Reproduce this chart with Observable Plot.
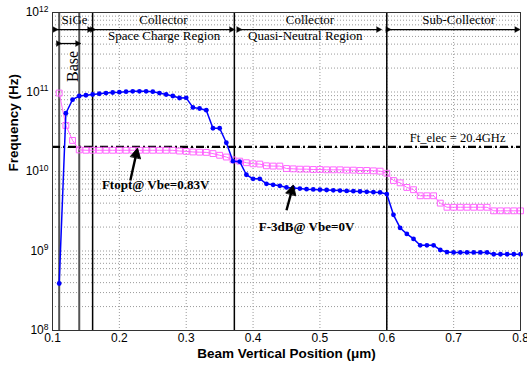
<!DOCTYPE html>
<html>
<head>
<meta charset="utf-8">
<script src="https://cdn.jsdelivr.net/npm/d3@7"></script>
<script src="https://cdn.jsdelivr.net/npm/@observablehq/plot@0.6"></script>
<style>
  html, body { margin: 0; padding: 0; background: #fff; }
  #chart { width: 527px; height: 367px; }
</style>
</head>
<body>
<div id="chart"></div>
<script>
// ---- data ----
const positions = [0.11, 0.12, 0.13, 0.14, 0.15, 0.16, 0.17, 0.18, 0.19, 0.20,
  0.21, 0.22, 0.23, 0.24, 0.25, 0.26, 0.27, 0.28, 0.29, 0.30,
  0.31, 0.32, 0.33, 0.34, 0.35, 0.36, 0.37, 0.38, 0.39, 0.40,
  0.41, 0.42, 0.43, 0.44, 0.45, 0.46, 0.47, 0.48, 0.49, 0.50,
  0.51, 0.52, 0.53, 0.54, 0.55, 0.56, 0.57, 0.58, 0.59, 0.60,
  0.61, 0.62, 0.63, 0.64, 0.65, 0.66, 0.67, 0.68, 0.69, 0.70,
  0.71, 0.72, 0.73, 0.74, 0.75, 0.76, 0.77, 0.78, 0.79, 0.80];

// F-3dB @ Vbe=0V (blue)
const f3dB = [3.9e8, 5.4e10, 8.0e10, 8.9e10, 9.1e10, 9.3e10, 9.5e10, 9.7e10, 9.85e10, 9.95e10,
  1.01e11, 1.02e11, 1.02e11, 1.02e11, 1.01e11, 9.7e10, 9.3e10, 8.9e10, 8.4e10, 8.45e10,
  6.4e10, 6.2e10, 5.9e10, 3.5e10, 3.5e10, 2.3e10, 1.35e10, 1.33e10, 9.1e9, 8.1e9,
  8.1e9, 7.0e9, 6.8e9, 6.6e9, 6.3e9, 6.2e9, 6.1e9, 6.0e9, 5.95e9, 5.9e9,
  5.85e9, 5.8e9, 5.75e9, 5.7e9, 5.65e9, 5.6e9, 5.55e9, 5.5e9, 5.45e9, 5.2e9,
  2.85e9, 1.95e9, 1.64e9, 1.42e9, 1.18e9, 1.18e9, 1.18e9, 1.03e9, 9.7e8, 9.6e8,
  9.6e8, 9.6e8, 9.6e8, 9.6e8, 9.6e8, 9.1e8, 9.1e8, 9.1e8, 9.1e8, 9.1e8];

// Ftopt @ Vbe=0.83V (pink)
const ftopt = [9.7e10, 3.8e10, 2.46e10, 1.87e10, 1.85e10, 1.85e10, 1.85e10, 1.85e10, 1.85e10, 1.85e10,
  1.85e10, 1.85e10, 1.85e10, 1.85e10, 1.85e10, 1.85e10, 1.85e10, 1.85e10, 1.81e10, 1.79e10,
  1.76e10, 1.75e10, 1.74e10, 1.68e10, 1.6e10, 1.52e10, 1.4e10, 1.35e10, 1.29e10, 1.25e10,
  1.24e10, 1.18e10, 1.17e10, 1.17e10, 1.09e10, 1.08e10, 1.07e10, 1.07e10, 1.06e10, 1.06e10,
  1.05e10, 1.05e10, 1.05e10, 1.04e10, 1.04e10, 1.03e10, 1.03e10, 1.02e10, 1.01e10, 9.5e9,
  7.7e9, 7.2e9, 6.3e9, 5.9e9, 4.95e9, 4.95e9, 4.95e9, 4.0e9, 3.55e9, 3.55e9,
  3.55e9, 3.55e9, 3.55e9, 3.55e9, 3.55e9, 3.2e9, 3.2e9, 3.2e9, 3.2e9, 3.2e9];

const ftElec = 2.04e10;
const ftElecLabel = "Ft_elec = 20.4GHz";

const xTicks = [0.1, 0.2, 0.3, 0.4, 0.5, 0.6, 0.7, 0.8];
const yTicks = [1e8, 1e9, 1e10, 1e11, 1e12];
const yMinor = [2e8, 3e8, 4e8, 5e8, 6e8, 7e8, 8e8, 9e8,
  2e9, 3e9, 4e9, 5e9, 6e9, 7e9, 8e9, 9e9,
  2e10, 3e10, 4e10, 5e10, 6e10, 7e10, 8e10, 9e10,
  2e11, 3e11, 4e11, 5e11, 6e11, 7e11, 8e11, 9e11];

// region boundaries
const innerBounds = [0.11, 0.14];
const mainBounds = [0.16, 0.372, 0.6];

// double-headed region arrows
const spans = [
  {x1: 0.106, x2: 0.158, y: 6.1e11},
  {x1: 0.111, x2: 0.14, y: 4.07e11},
  {x1: 0.162, x2: 0.370, y: 6.1e11},
  {x1: 0.381, x2: 0.590, y: 6.1e11},
  {x1: 0.604, x2: 0.797, y: 6.1e11}
];
const regionLabels = [
  {text: "SiGe", x: 0.133, y: 8.1e11},
  {text: "Collector", x: 0.266, y: 8.0e11},
  {text: "Space Charge Region", x: 0.267, y: 5.1e11},
  {text: "Collector", x: 0.485, y: 8.0e11},
  {text: "Quasi-Neutral Region", x: 0.478, y: 5.1e11},
  {text: "Sub-Collector", x: 0.7075, y: 8.0e11}
];
const baseLabel = [{text: "Base", x: 0.130, y: 2.1e11}];

const curveLabels = [
  {text: "Ftopt@ Vbe=0.83V", x: 0.2542, y: 6.7e9},
  {text: "F-3dB@ Vbe=0V", x: 0.48, y: 2.0e9}
];
const curveArrows = [
  {x1: 0.2164, y1: 7.7e9, x2: 0.2262, y2: 1.8e10},
  {x1: 0.450, y1: 3.25e9, x2: 0.459, y2: 6.2e9}
];

const xLabel = "Beam Vertical Position (μm)";
const yLabel = "Frequency (Hz)";

// ---- table ----
const blueRows = positions.map((x, i) => ({x, y: f3dB[i]}));
const pinkRows = positions.map((x, i) => ({x, y: ftopt[i]}));

const serif = "'Liberation Serif', 'Times New Roman', serif";
const sans = "'Liberation Sans', Arial, sans-serif";
const grid = {stroke: "#9a9a9a", strokeDasharray: "1,2", strokeWidth: 1};

const chart = Plot.plot({
  width: 527,
  height: 367,
  marginLeft: 52,
  marginRight: 7,
  marginTop: 12,
  marginBottom: 37,
  style: {fontFamily: sans, fontSize: "12px", color: "#000", background: "#fff", overflow: "visible"},
  x: {domain: [0.1, 0.8], label: null},
  y: {type: "log", domain: [1e8, 1e12], label: null},
  marks: [
    Plot.ruleX(xTicks.slice(1, -1), grid),
    Plot.ruleY(yMinor, grid),
    Plot.ruleY(yTicks.slice(1, -1), grid),
    Plot.ruleX(innerBounds, {stroke: "#555", strokeWidth: 2}),
    Plot.ruleX(mainBounds, {stroke: "#000", strokeWidth: 1.5}),
    Plot.ruleY([ftElec], {stroke: "#000", strokeWidth: 2.2, strokeDasharray: "8,3,2,3"}),
    Plot.text([ftElecLabel], {x: 0.706, y: ftElec, text: d => d, dy: -9, fontFamily: serif, fontSize: 12.5}),
    Plot.line(pinkRows, {x: "x", y: "y", stroke: "#ff66ff", strokeWidth: 1}),
    Plot.dot(pinkRows, {x: "x", y: "y", symbol: "square", r: 3.3, stroke: "#ff66ff", fill: "none", strokeWidth: 1}),
    Plot.line(blueRows, {x: "x", y: "y", stroke: "#0000ff", strokeWidth: 1.5}),
    Plot.dot(blueRows, {x: "x", y: "y", r: 2.4, fill: "#0000ff", stroke: "none"}),
    Plot.link(spans, {x1: "x1", x2: "x2", y1: "y", y2: "y", stroke: "#000", strokeWidth: 1.3, markerStart: "arrow", markerEnd: "arrow"}),
    Plot.text(regionLabels, {x: "x", y: "y", text: "text", fontFamily: serif, fontSize: 13}),
    Plot.text(baseLabel, {x: "x", y: "y", text: "text", fontFamily: serif, fontSize: 16, rotate: -90}),
    Plot.link(curveArrows, {x1: "x1", y1: "y1", x2: "x2", y2: "y2", stroke: "#000", strokeWidth: 2.4, markerEnd: "arrow"}),
    Plot.text(curveLabels, {x: "x", y: "y", text: "text", fontFamily: serif, fontSize: 13, fontWeight: "bold"}),
    Plot.frame({stroke: "#333", strokeWidth: 1}),
    Plot.axisX({ticks: xTicks, tickFormat: d3.format(".1f"), tickSize: 0, tickPadding: 3, label: null, fontSize: 12}),
    Plot.axisY({ticks: yTicks, tickFormat: d => "10^" + Math.round(Math.log10(d)), tickSize: 0, tickPadding: 4, label: null, fontSize: 12}),
    Plot.text([xLabel], {frameAnchor: "bottom", dy: 27, text: d => d, fontWeight: "bold", fontSize: 13.5, fontFamily: sans}),
    Plot.text([yLabel], {frameAnchor: "left", dx: -39, rotate: -90, text: d => d, fontWeight: "bold", fontSize: 13.5, fontFamily: sans})
  ]
});

// superscript exponents on y tick labels
chart.querySelectorAll('g[aria-label="y-axis tick label"] text').forEach(t => {
  const parts = t.textContent.split("^");
  if (parts.length !== 2) return;
  t.textContent = parts[0];
  const ts = document.createElementNS("http://www.w3.org/2000/svg", "tspan");
  ts.setAttribute("dy", "-0.55em");
  ts.setAttribute("font-size", "8.5");
  ts.textContent = parts[1];
  t.appendChild(ts);
});
// filled arrowheads
chart.querySelectorAll("marker").forEach(m => {
  m.setAttribute("fill", m.getAttribute("stroke") || "#000");
  m.setAttribute("stroke-width", "0.5");
  const p = m.querySelector("path");
  if (p) p.setAttribute("d", "M-4,-3.2L2,0L-4,3.2Z");
});

document.getElementById("chart").appendChild(chart);
</script>
</body>
</html>
